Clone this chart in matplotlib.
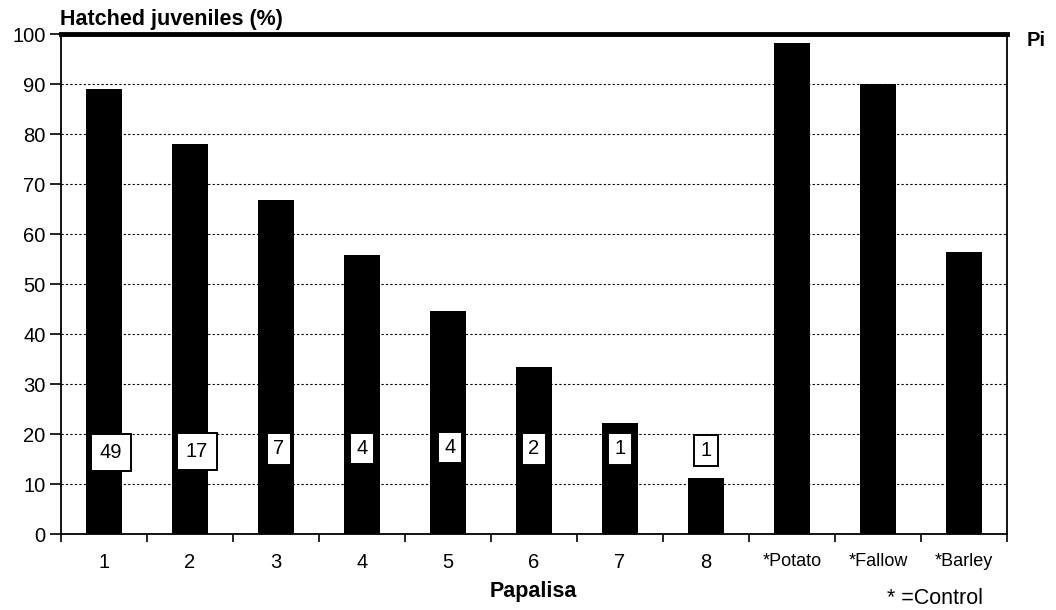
import matplotlib
matplotlib.use("Agg")
import matplotlib.pyplot as plt
import numpy as np

categories = ["1", "2", "3", "4", "5", "6", "7", "8", "*Potato", "*Fallow", "*Barley"]
hatched = [89.0, 78.1, 66.9, 55.8, 44.6, 33.5, 22.3, 11.2, 98.3, 90.0, 56.5]
box_labels = ["49", "17", "7", "4", "4", "2", "1", "1"]
box_y = [16.3, 16.5, 17.0, 17.1, 17.3, 17.0, 17.0, 16.7]
box_dx = [0.08, 0.08, 0.03, 0.0, 0.02, 0.0, 0.0, 0.0]
yticks = [0, 10, 20, 30, 40, 50, 60, 70, 80, 90, 100]

plt.rcParams['font.family'] = ['Liberation Sans', 'DejaVu Sans']

fig = plt.figure(figsize=(10.56, 6.10), dpi=100)
ax = fig.add_axes([61/1056, 1-534/610, (1007-61)/1056, (534-34)/610])

x = np.arange(len(categories))
ax.bar(x, hatched, width=0.43, color='black', zorder=3)

ax.set_xlim(-0.5, len(categories)-0.5)
ax.set_ylim(0, 100)
ax.set_yticks(yticks)
ax.set_yticklabels([str(v) for v in yticks], fontsize=14.5)
ax.yaxis.grid(True, linestyle=(0, (2, 2)), color='black', linewidth=0.8, zorder=1)

# category labels at slot centres, ticks between slots
ax.set_xticks(np.arange(len(categories)+1) - 0.5)
ax.set_xticklabels([])
ax.tick_params(axis='x', length=6, width=1.2, direction='out')
ax.tick_params(axis='y', length=8, width=1.2, direction='out', pad=3)
for i, c in enumerate(categories):
    fs = 14.5 if not c.startswith('*') else 13
    ax.text(i, -0.056, c, transform=ax.get_xaxis_transform(), ha='center', va='center',
            fontsize=fs)

for i, lab in enumerate(box_labels):
    pad = 0.45 if len(lab) > 1 else 0.32
    ax.text(i + box_dx[i], box_y[i], lab, ha='center', va='center', fontsize=14.5, zorder=5,
            bbox=dict(boxstyle=f'square,pad={pad}', facecolor='white', edgecolor='black', linewidth=1.4))

for s in ['left', 'bottom', 'right']:
    ax.spines[s].set_linewidth(1.3)
ax.spines['top'].set_linewidth(3.5)
ax.spines['top'].set_zorder(6)

fig.text(60/1056, 1-19/610, "Hatched juveniles (%)", fontsize=15.5, fontweight='bold', va='center', ha='left')
fig.text(1027/1056, 1-40/610, "Pi", fontsize=14.5, fontweight='bold', va='center', ha='left')
fig.text(533/1056, 1-592/610, "Papalisa", fontsize=15.5, fontweight='bold', va='center', ha='center')
fig.text(887/1056, 1-598/610, "* =Control", fontsize=15.5, va='center', ha='left')

fig.savefig("out.png", dpi=100)
